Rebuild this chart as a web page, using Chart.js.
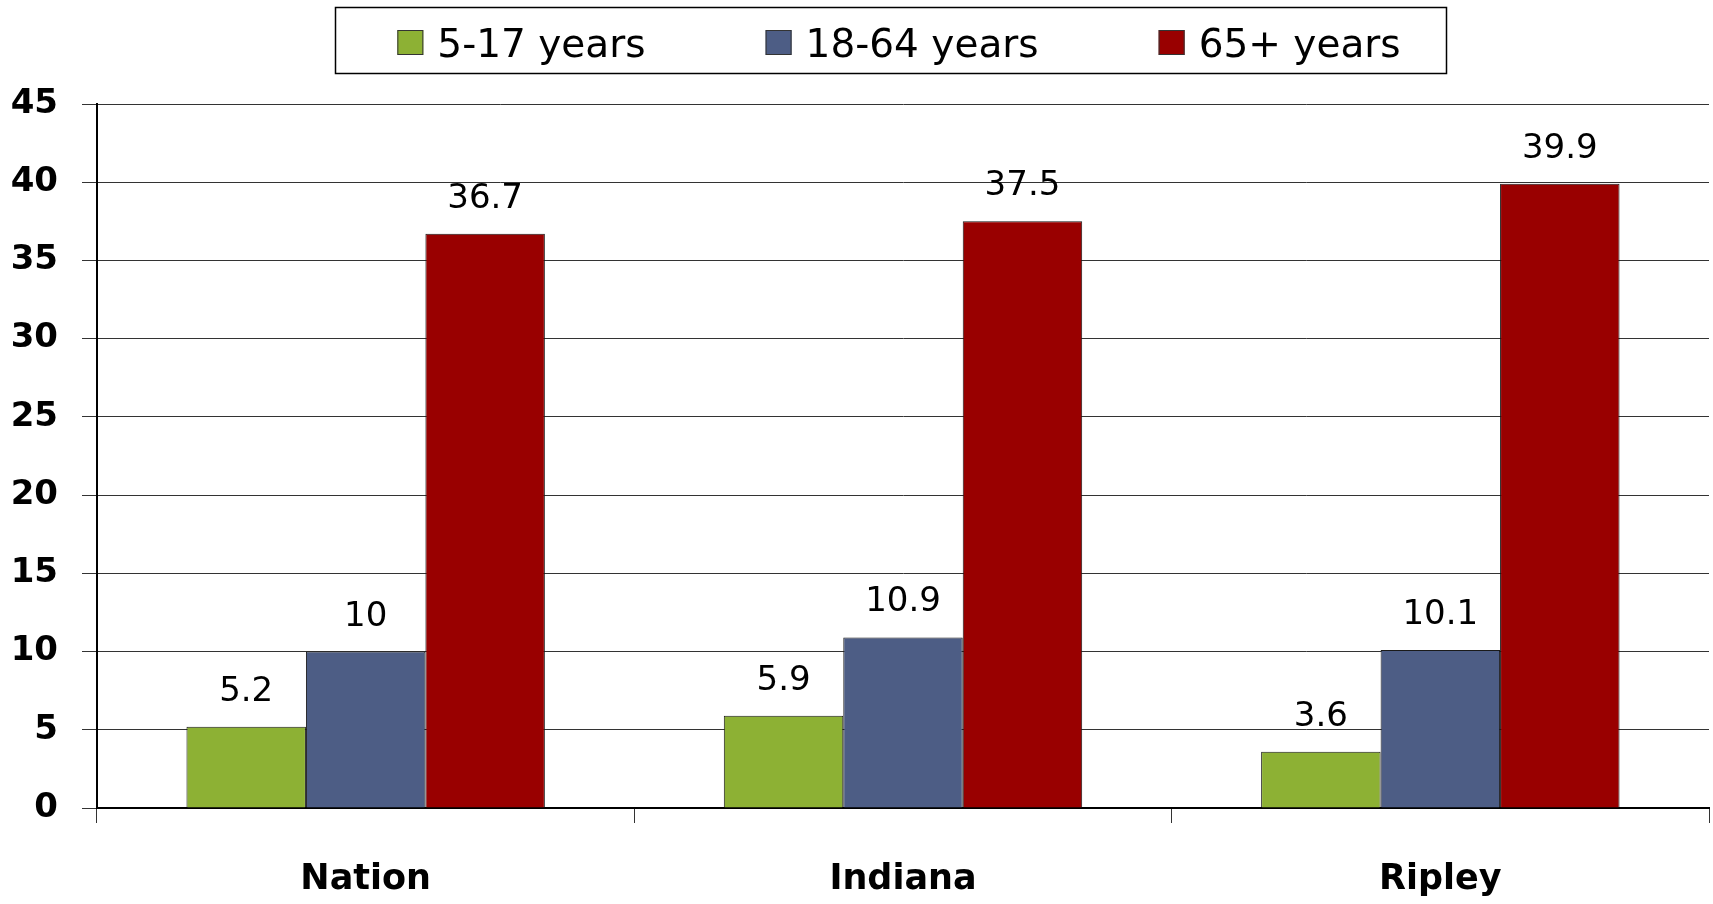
<!DOCTYPE html>
<html>
<head>
<meta charset="utf-8">
<script src="https://cdn.jsdelivr.net/npm/chart.js@4"></script>
<style>
  html, body { margin: 0; padding: 0; background: #fff; }
  #wrap { width: 1713px; height: 904px; }
</style>
</head>
<body>
<div id="wrap"><canvas id="myChart"></canvas></div>
<script>
const categories = ['Nation', 'Indiana', 'Ripley']
const youth = [5.2, 5.9, 3.6]
const adults = [10, 10.9, 10.1]
const seniors = [36.7, 37.5, 39.9]
const seriesNames = ['5-17 years', '18-64 years', '65+ years']
const yTicks = [0, 5, 10, 15, 20, 25, 30, 35, 40, 45]

const FONT = "'DejaVu Sans', Verdana, sans-serif"

// value labels above each bar
const barLabels = {
    id: 'barLabels',
    afterDatasetsDraw(chart) {
        const ctx = chart.ctx
        ctx.save()
        ctx.font = '34px ' + FONT
        ctx.fillStyle = '#000'
        ctx.textAlign = 'center'
        ctx.textBaseline = 'alphabetic'
        chart.data.datasets.forEach((ds, i) => {
            chart.getDatasetMeta(i).data.forEach((bar, j) => {
                ctx.fillText(String(ds.data[j]), bar.x, bar.y - 26)
            })
        })
        ctx.restore()
    }
}

// boxed legend on top
const boxLegend = {
    id: 'boxLegend',
    afterDraw(chart) {
        const ctx = chart.ctx
        const ds = chart.data.datasets
        ctx.save()
        ctx.font = '39px ' + FONT
        const box = 26, gap = 14, spacing = 120
        const widths = ds.map(d => box + gap + ctx.measureText(d.label).width)
        const total = widths.reduce((a, b) => a + b) + spacing * (ds.length - 1)
        const mid = (chart.chartArea.left + chart.chartArea.right) / 2 - 4
        let x = mid - total / 2
        ctx.strokeStyle = '#000'
        ctx.lineWidth = 1.5
        ctx.strokeRect(Math.round(x - 62) + 0.5, 7.5, Math.round(total + 108), 66)
        ctx.textBaseline = 'alphabetic'
        ctx.textAlign = 'left'
        ds.forEach((d, i) => {
            ctx.fillStyle = d.backgroundColor
            ctx.fillRect(x, 30, box, 25)
            ctx.lineWidth = 1
            ctx.strokeStyle = '#333'
            ctx.strokeRect(x + 0.5, 30.5, box - 1, 24)
            ctx.fillStyle = '#000'
            ctx.fillText(d.label, x + box + gap, 57)
            x += widths[i] + spacing
        })
        ctx.restore()
    }
}

const colors = ['#8DB134', '#4D5D85', '#990000']
const values = [youth, adults, seniors]

const myChart = document.getElementById('myChart').getContext('2d')
new Chart(myChart, {
    type: 'bar',
    data: {
        labels: categories,
        datasets: seriesNames.map((name, i) => ({
            label: name,
            data: values[i],
            backgroundColor: colors[i],
            borderColor: '#1a1a1a',
            borderWidth: 1,
            barPercentage: 1,
            categoryPercentage: 0.667
        }))
    },
    options: {
        responsive: true,
        maintainAspectRatio: false,
        animation: false,
        layout: {
            padding: { top: 104, left: 0, right: 4, bottom: 0 }
        },
        plugins: {
            legend: { display: false },
            tooltip: { enabled: false }
        },
        scales: {
            x: {
                offset: true,
                afterFit: axis => { axis.height = 96 },
                grid: {
                    offset: true,
                    drawOnChartArea: false,
                    color: '#333',
                    tickLength: 15
                },
                border: { color: '#000', width: 2 },
                ticks: {
                    color: '#000',
                    padding: 36,
                    font: { family: FONT, size: 35, weight: 'bold' }
                }
            },
            y: {
                min: 0,
                max: 45,
                afterFit: axis => { axis.width = 97 },
                afterBuildTicks: axis => {
                    axis.ticks = yTicks.map(v => ({ value: v }))
                },
                grid: {
                    color: '#333',
                    lineWidth: 1,
                    tickLength: 15
                },
                border: { color: '#000', width: 2 },
                ticks: {
                    color: '#000',
                    padding: 24,
                    font: { family: FONT, size: 34, weight: 'bold' }
                }
            }
        }
    },
    plugins: [barLabels, boxLegend]
})
</script>
</body>
</html>
